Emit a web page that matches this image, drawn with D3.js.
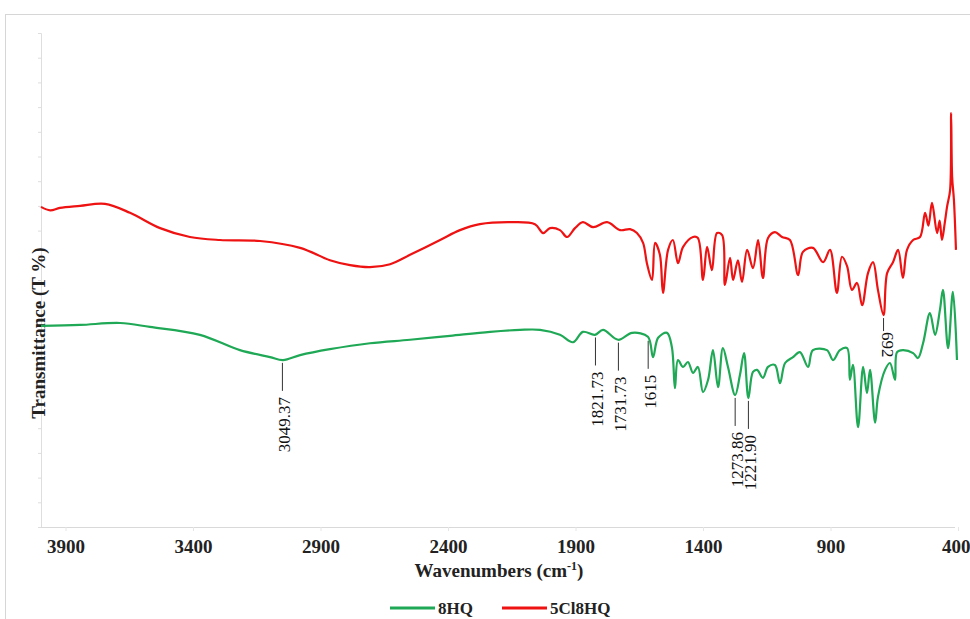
<!DOCTYPE html>
<html>
<head>
<meta charset="utf-8">
<script src="https://cdn.jsdelivr.net/npm/d3@7/dist/d3.min.js"></script>
<style>
  body { margin: 0; background: #fff; }
  svg text { font-family: "Liberation Serif", "Times New Roman", serif; }
</style>
</head>
<body>
<svg id="svg" width="970" height="619"></svg>
<script>
// FTIR spectra, values (wavenumber cm-1, transmittance %)
var wnRed = [3996,3960,3922,3843,3745,3647,3529,3412,3294,3137,2980,2863,2784,2706,2627,2549,2431,2353,2275,2157,2059,2027,2000,1961,1933,1902,1871,1831,1776,1725,1686,1659,1635,1620,1600,1588,1569,1557,1537,1518,1498,1478,1439,1420,1400,1384,1365,1345,1325,1314,1294,1282,1263,1247,1227,1204,1184,1165,1145,1118,1090,1059,1027,1008,969,929,902,875,855,835,816,796,776,753,733,714,692,678,655,635,616,600,576,549,529,516,502,482,472,463,452,443,431,427,423,416,408];
var tRed  = [64.8,64.1,64.6,65.0,65.4,63.6,60.5,58.7,58.1,57.9,56.5,54.0,53.0,52.6,53.2,55.1,58.1,60.1,61.3,61.7,61.3,59.5,60.5,60.1,58.7,60.5,61.7,60.7,61.7,60.1,60.3,59.5,57.5,53.4,50.0,57.5,55.1,47.4,56.1,58.1,53.4,56.7,58.7,58.5,50.0,56.7,52.0,59.5,59.1,49.0,54.5,50.0,54.0,49.6,56.1,52.4,58.1,50.4,58.5,59.7,58.7,58.1,51.0,55.7,56.5,53.6,56.1,47.4,54.7,52.8,48.0,49.4,44.9,51.4,53.6,48.0,42.9,51.4,53.6,56.1,50.4,56.1,58.1,58.7,63.6,61.0,65.6,59.5,62.0,58.1,61.5,64.8,68.2,83.8,70.9,66.2,56.1];

var wnGreen = [3996,3843,3686,3569,3373,3216,3098,3047,2980,2863,2706,2549,2392,2235,2118,2039,1961,1910,1871,1824,1792,1733,1678,1616,1596,1576,1541,1522,1510,1498,1478,1459,1439,1420,1400,1380,1361,1341,1322,1302,1274,1255,1239,1222,1204,1188,1165,1145,1118,1098,1078,1047,1020,988,969,914,890,863,835,824,812,792,772,757,745,725,714,686,667,647,639,616,576,557,537,510,490,471,459,439,420,404];
var tGreen  = [40.7,40.9,41.3,40.5,38.9,35.8,34.4,33.8,34.8,36.0,37.2,37.9,38.7,39.5,39.9,39.9,38.9,37.4,39.5,38.9,39.9,37.9,39.3,38.5,34.4,38.3,39.3,36.4,28.1,33.8,32.4,33.4,31.2,32.4,27.3,29.8,35.8,28.3,36.2,32.4,26.7,30.8,35.2,26.1,31.4,31.8,30.2,32.4,32.8,29.1,33.2,34.4,35.4,32.4,35.8,35.8,33.8,35.8,36.2,29.8,32.8,20.2,32.4,27.1,31.8,21.1,26.3,31.8,33.2,29.8,35.4,35.8,35.2,34.2,37.2,43.3,38.9,43.9,48.0,36.2,47.6,33.8];

var xTicks = [3900,3400,2900,2400,1900,1400,900,400];
var seriesNames = ["8HQ", "5Cl8HQ"];
var colorList = ["#1fa855", "#ee1212"];

var annoLabels = ["3049.37","1821.73","1731.73","1615","1273.86","1221.90","692"];
var annoSeries = [0,0,0,0,0,0,1];

var svg = d3.select("#svg");

// outer frame
svg.append("rect")
    .attr("x", 5.5).attr("y", 14.5)
    .attr("width", 1000).attr("height", 700)
    .attr("fill", "none").attr("stroke", "#d6d6d6");

var x = d3.scaleLinear().domain([4000, 400]).range([40, 958]);
var y = d3.scaleLinear().domain([0, 100]).range([527, 33]);

// left axis, no labels
var gy = svg.append("g").attr("transform", "translate(41,0)")
    .call(d3.axisLeft(y).tickValues(d3.range(0, 101, 5)).tickSize(3).tickFormat(""));
gy.selectAll("line, path").attr("stroke", "#dedede");

// bottom axis
var gx = svg.append("g").attr("transform", "translate(0,527)")
    .call(d3.axisBottom(x).tickValues(xTicks).tickSize(4).tickPadding(9).tickFormat(d3.format("d")));
gx.select("path").attr("stroke", "#d9d9d9").attr("d", "M41,0.5H955");
gx.selectAll("line").attr("stroke", "#e6e6e6");
gx.selectAll("text")
    .style("font-family", "'Liberation Serif', serif")
    .style("font-size", "19px")
    .style("font-weight", "bold")
    .attr("fill", "#222");
// keep the last label inside the page
gx.selectAll(".tick").filter(function(d) { return d == 400; })
    .select("text").attr("text-anchor", "end").attr("dx", 12);

// axis titles
var xt = svg.append("text")
    .attr("x", 499).attr("y", 577)
    .attr("text-anchor", "middle")
    .style("font-size", "19px").style("font-weight", "bold").attr("fill", "#222")
    .text("Wavenumbers (cm");
xt.append("tspan").attr("dy", -7).style("font-size", "12px").text("-1");
xt.append("tspan").attr("dy", 7).text(")");

svg.append("text")
    .attr("transform", "translate(38,333) rotate(-90)")
    .attr("text-anchor", "middle")
    .attr("dominant-baseline", "central")
    .style("font-size", "19px").style("font-weight", "bold").attr("fill", "#222")
    .text("Transmittance (T %)");

// spectra
var line = d3.line()
    .curve(d3.curveCatmullRom.alpha(0.5))
    .x(function(d) { return x(d[0]); })
    .y(function(d) { return y(d[1]); });

var series = [d3.zip(wnGreen, tGreen), d3.zip(wnRed, tRed)];

series.forEach(function(s, i) {
    svg.append("path")
        .datum(s)
        .attr("d", line)
        .attr("fill", "none")
        .attr("stroke", colorList[i])
        .attr("stroke-width", 2.2)
        .attr("stroke-linejoin", "round");
});

// value of a series at a wavenumber (series sorted by decreasing wavenumber)
function valueAt(s, wn) {
    for (let k = 0; k < s.length - 1; k++) {
        if (wn <= s[k][0] && wn >= s[k+1][0]) {
            var f = (s[k][0] - wn) / (s[k][0] - s[k+1][0]);
            return s[k][1] + f * (s[k+1][1] - s[k][1]);
        }
    }
    return s[s.length - 1][1];
}

// peak labels
annoLabels.forEach(function(lab, i) {
    var wn = +lab;
    var s = series[annoSeries[i]];
    var px = x(wn);
    var py = y(valueAt(s, wn));
    var len = annoSeries[i] == 0 ? 28 : 13;
    svg.append("line")
        .attr("x1", px).attr("x2", px)
        .attr("y1", py + 3).attr("y2", py + 3 + len)
        .attr("stroke", "#333").attr("stroke-width", 1);
    var ty = py + 3 + len + 6;
    if (annoSeries[i] == 0) {
        svg.append("text")
            .attr("transform", "translate(" + (px + 2) + "," + ty + ") rotate(-90)")
            .attr("text-anchor", "end")
            .attr("dominant-baseline", "central")
            .style("font-size", "17px").attr("fill", "#111")
            .text(lab);
    } else {
        svg.append("text")
            .attr("transform", "translate(" + (px + 4) + "," + (ty - 5) + ") rotate(90)")
            .attr("text-anchor", "start")
            .attr("dominant-baseline", "central")
            .style("font-size", "17px").attr("fill", "#111")
            .text(lab);
    }
});

// legend
var legX = [390, 502];
seriesNames.forEach(function(name, i) {
    svg.append("line")
        .attr("x1", legX[i]).attr("x2", legX[i] + 45)
        .attr("y1", 608).attr("y2", 608)
        .attr("stroke", colorList[i]).attr("stroke-width", 3);
    svg.append("text")
        .attr("x", legX[i] + 48).attr("y", 614)
        .style("font-size", "17px").style("font-weight", "bold").attr("fill", "#222")
        .text(name);
});
</script>
</body>
</html>
